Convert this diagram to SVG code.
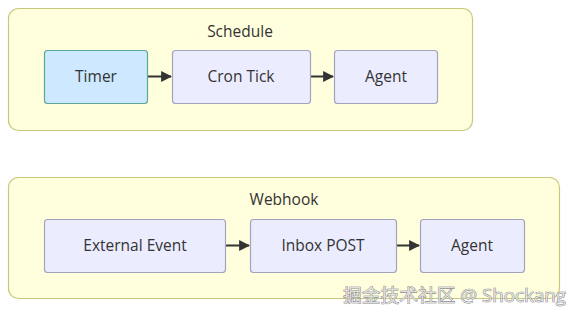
<svg xmlns="http://www.w3.org/2000/svg" width="577" height="316" viewBox="0 0 577 316">
<defs>
<style>
.cluster{fill:#ffffde;stroke:#c8c87a;stroke-width:1.2}
.node{fill:#ececff;stroke:#a3a3bd;stroke-width:1.2}
.timer{fill:#cde8ff;stroke:#5aa896;stroke-width:1.2}
.lbl{font-family:"Open Sans","DejaVu Sans",sans-serif;font-size:15.5px;fill:#333;text-anchor:middle;dominant-baseline:central}
.edge{stroke:#333;stroke-width:2;fill:none}
.wm{font-family:"Open Sans","Noto Sans CJK SC",sans-serif;font-size:18px;fill:#dedede;stroke:#6e6e6e;stroke-width:0.7;paint-order:stroke}
</style>
<marker id="arr" viewBox="0 0 10 10" refX="9" refY="5" markerWidth="5.5" markerHeight="5.5" orient="auto" markerUnits="strokeWidth">
<path d="M0,0 L10,5 L0,10 z" fill="#333"/>
</marker>
</defs>
<rect width="577" height="316" fill="#ffffff"/>
<g id="cluster-schedule">
<rect class="cluster" x="8.5" y="8.5" width="464" height="122" rx="10"/>
<text class="lbl" x="240" y="30.5">Schedule</text>
</g>
<g id="cluster-webhook">
<rect class="cluster" x="8.5" y="177.5" width="551" height="121" rx="10"/>
<text class="lbl" x="284" y="199">Webhook</text>
</g>
<g id="connectors">
<line class="edge" x1="148" y1="76.5" x2="171" y2="76.5" marker-end="url(#arr)"/>
<line class="edge" x1="311" y1="76.5" x2="333" y2="76.5" marker-end="url(#arr)"/>
<line class="edge" x1="226" y1="245.5" x2="249" y2="245.5" marker-end="url(#arr)"/>
<line class="edge" x1="397" y1="245.5" x2="419" y2="245.5" marker-end="url(#arr)"/>
</g>
<g id="node-timer">
<rect class="timer" x="44.5" y="50.5" width="103" height="53" rx="3"/>
<text class="lbl" x="96" y="75.5">Timer</text>
</g>
<g id="node-crontick">
<rect class="node" x="172.5" y="50.5" width="138" height="53" rx="3"/>
<text class="lbl" x="241" y="75.5">Cron Tick</text>
</g>
<g id="node-agent1">
<rect class="node" x="334.5" y="50.5" width="103" height="53" rx="3"/>
<text class="lbl" x="386" y="75.5">Agent</text>
</g>
<g id="node-external">
<rect class="node" x="44.5" y="219.5" width="181" height="53" rx="3"/>
<text class="lbl" x="135" y="244.5">External Event</text>
</g>
<g id="node-inbox">
<rect class="node" x="250.5" y="219.5" width="146" height="53" rx="3"/>
<text class="lbl" x="323" y="244.5">Inbox POST</text>
</g>
<g id="node-agent2">
<rect class="node" x="420.5" y="219.5" width="104" height="53" rx="3"/>
<text class="lbl" x="472" y="244.5">Agent</text>
</g>
<text class="wm" x="343" y="302" textLength="223" lengthAdjust="spacingAndGlyphs">掘金技术社区 @ Shockang</text>
</svg>
